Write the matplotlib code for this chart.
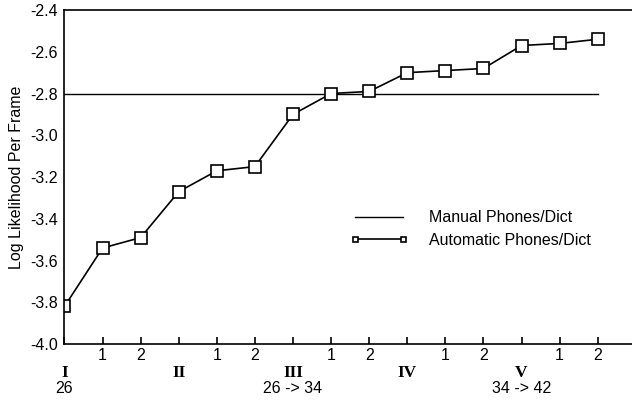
import numpy as np
import matplotlib
matplotlib.use("Agg")
import matplotlib.pyplot as plt

plt.rcParams["font.family"] = ["Liberation Sans", "DejaVu Sans"]

# positions along the x axis: group start, then iterations 1 and 2
tick_labels = ["", "1", "2", "", "1", "2", "", "1", "2", "", "1", "2", "", "1", "2"]
groups = ["I", "II", "III", "IV", "V"]
group_sizes = ["26", "", "26 -> 34", "", "34 -> 42"]
auto_ll = [-3.82, -3.54, -3.49, -3.27, -3.17, -3.15, -2.90, -2.80, -2.79,
           -2.70, -2.69, -2.68, -2.57, -2.56, -2.54]
manual_ll = -2.80

x = np.arange(len(auto_ll))
FS = 11.5

fig = plt.figure(figsize=(6.32, 4.01), dpi=100)
ax = fig.add_axes([0.102, 0.142, 0.898, 0.833])

ax.plot([x[0], x[-1]], [manual_ll, manual_ll], color="black", lw=1.0,
        label="Manual Phones/Dict")
ax.plot(x, auto_ll, color="black", lw=1.2, marker="s", markersize=8,
        markerfacecolor="white", markeredgecolor="black", markeredgewidth=1.2,
        label="Automatic Phones/Dict")

ax.set_xlim(0, 14.9)
ax.set_ylim(-4.0, -2.4)
yt = np.arange(-4.0, -2.39, 0.2)
ax.set_yticks(yt)
ax.set_yticklabels([f"{v:.1f}" for v in yt])
ax.tick_params(axis="y", length=0, pad=5, labelsize=FS)
ax.set_xticks(x)
ax.set_xticklabels(tick_labels)
ax.tick_params(axis="x", direction="in", length=5, width=1.2, pad=3, labelsize=FS)
ax.spines["right"].set_visible(False)
for s in ["left", "bottom", "top"]:
    ax.spines[s].set_linewidth(1.2)

trans = ax.get_xaxis_transform()
for i, (g, n) in enumerate(zip(groups, group_sizes)):
    ax.text(3 * i, -0.086, g, transform=trans, ha="center", va="center",
            fontsize=12.5, weight="bold", family="Liberation Serif")
    if n:
        ax.text(3 * i, -0.133, n, transform=trans, ha="center", va="center",
                fontsize=FS)

ax.set_ylabel("Log Likelihood Per Frame", fontsize=FS, labelpad=4)

leg = ax.legend(frameon=False, loc="upper left", bbox_to_anchor=(0.503, 0.40),
                handlelength=3.6, handletextpad=1.35, labelspacing=0.45,
                borderpad=0, borderaxespad=0, fontsize=FS, markerscale=0.45,
                numpoints=2)
for h in leg.legend_handles:
    h.set_markeredgewidth(1.2)

fig.savefig("out.png", dpi=100)
